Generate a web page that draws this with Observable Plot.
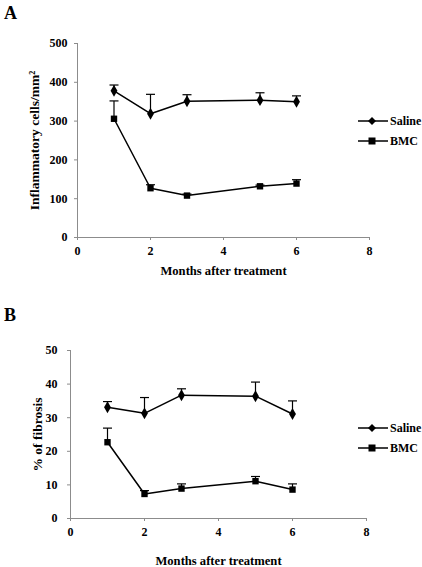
<!DOCTYPE html>
<html>
<head>
<meta charset="utf-8">
<script src="https://cdn.jsdelivr.net/npm/d3@7"></script>
<script src="https://cdn.jsdelivr.net/npm/@observablehq/plot@0.6"></script>
<style>
  html, body { margin: 0; padding: 0; background: #fff; }
  #root { position: relative; width: 422px; height: 567px; overflow: hidden; font-family: "Liberation Serif", "Times New Roman", serif; font-weight: bold; }
  #root svg, #root svg text { font-family: "Liberation Serif", "Times New Roman", serif !important; font-weight: bold !important; }
  #root svg { font-size: 12px; }
  .panel { position: absolute; left: 0; }
  .letter { position: absolute; font-size: 18px; font-weight: bold; }
  .legend { position: absolute; font-size: 12px; display: flex; align-items: center; height: 14px; }
  .legend svg { margin-right: 2px; }
</style>
</head>
<body>
<div id="root"></div>
<script>
// ---- Data ----
const months = [1, 2, 3, 5, 6];
const seriesNames = ["Saline", "BMC"];

// Panel A: inflammatory cells/mm²
const salineCells = [378, 319, 351, 354, 350];
const salineCellsErr = [393, 369, 368, 373, 365];
const bmcCells = [306, 127, 108, 132, 139];
const bmcCellsErr = [352, 136, 112, 135, 149];

// Panel B: % of fibrosis
const salineFib = [33.1, 31.3, 36.7, 36.4, 31.1];
const salineFibErr = [34.8, 36.0, 38.6, 40.6, 35.0];
const bmcFib = [22.7, 7.3, 8.9, 11.1, 8.6];
const bmcFibErr = [26.9, 8.3, 10.3, 12.5, 10.3];

const xTicks = [0, 2, 4, 6, 8];
const yTicksA = [0, 100, 200, 300, 400, 500];
const yTicksB = [0, 10, 20, 30, 40, 50];
const xTitle = "Months after treatment";

function rows(name, vals, errs) {
  return months.map((m, i) => ({series: name, month: m, value: vals[i], top: errs[i]}));
}

const capSymbol = {
  draw(context, size) {
    const w = 4.5;
    context.moveTo(-w, 0);
    context.lineTo(w, 0);
  }
};

const symbols = {Saline: "diamond", BMC: "square"};

function makeChart(opts) {
  const data = [...rows("Saline", opts.saline, opts.salineErr), ...rows("BMC", opts.bmc, opts.bmcErr)];
  const font = {fontFamily: "Liberation Serif", fontWeight: "bold", fontSize: "12px", background: "transparent", overflow: "visible"};
  return Plot.plot({
    width: 422,
    height: opts.height,
    marginLeft: opts.marginLeft,
    marginRight: opts.marginRight,
    marginTop: opts.marginTop,
    marginBottom: opts.marginBottom,
    style: font,
    x: {domain: [0, 8]},
    y: {domain: opts.yDomain},
    marks: [
      Plot.ruleY([opts.yDomain[0]], {stroke: "#8c8c8c", strokeWidth: 1}),
      Plot.ruleX([0], {stroke: "#8c8c8c", strokeWidth: 1}),
      Plot.axisX({ticks: xTicks, tickSize: 3, tickPadding: 6, stroke: "#8c8c8c", fill: "black",
        label: null, tickFormat: d => String(d)}),
      Plot.axisY({ticks: opts.yTicks, tickSize: 3, tickPadding: opts.yTickPadding, stroke: "#8c8c8c", fill: "black",
        label: null, tickFormat: d => String(d)}),
      Plot.text([xTitle], {frameAnchor: "bottom", dy: opts.xTitleDy, fontSize: 12.6, fill: "black", lineAnchor: "middle"}),
      Plot.text([opts.yLabel], {frameAnchor: "left", dx: opts.yTitleDx, rotate: -90, fontSize: 13.5, fill: "black", lineAnchor: "middle", textAnchor: "middle"}),
      Plot.link(data, {x1: "month", x2: "month", y1: "value", y2: "top", stroke: "black", strokeWidth: 1.2}),
      Plot.dot(data, {x: "month", y: "top", symbol: capSymbol, stroke: "black", strokeWidth: 1.2, fill: "none", r: 4}),
      Plot.line(data, {x: "month", y: "value", z: "series", stroke: "black", strokeWidth: 1.5}),
      Plot.dot(data, {x: "month", y: "value", symbol: d => symbols[d.series], fill: "black", stroke: "none", r: 3.6})
    ]
  });
}

const root = document.getElementById("root");

function addPanel(top, chart) {
  const div = document.createElement("div");
  div.className = "panel";
  div.style.top = top + "px";
  div.appendChild(chart);
  root.appendChild(div);
}

function addLetter(text, left, top) {
  const d = document.createElement("div");
  d.className = "letter";
  d.style.left = left + "px";
  d.style.top = top + "px";
  d.textContent = text;
  root.appendChild(d);
}

function legendSymbol(name) {
  const shape = name === "Saline"
    ? '<path d="M14,-4 L18,0 L14,4 L10,0 Z" fill="black"/>'
    : '<rect x="10.5" y="-3.5" width="7" height="7" fill="black"/>';
  return '<svg width="30" height="10" viewBox="0 -5 30 10"><line x1="0" y1="0" x2="30" y2="0" stroke="black" stroke-width="1.5"/>' + shape + '</svg>';
}

function addLegend(top) {
  seriesNames.forEach((name, i) => {
    const d = document.createElement("div");
    d.className = "legend";
    d.style.left = "358px";
    d.style.top = (top + i * 20 - 7) + "px";
    d.innerHTML = legendSymbol(name) + '<span>' + name + '</span>';
    root.appendChild(d);
  });
}

addLetter("A", 4, 3);
addPanel(20, makeChart({
  height: 270, marginLeft: 77, marginRight: 53, marginTop: 23, marginBottom: 53,
  yDomain: [0, 500], yTicks: yTicksA, yLabel: "Inflammatory cells/mm²", yTickPadding: 7,
  saline: salineCells, salineErr: salineCellsErr, bmc: bmcCells, bmcErr: bmcCellsErr,
  xTitleDy: 33, yTitleDx: -43
}));
addLegend(121);

addLetter("B", 4, 305);
addPanel(290, makeChart({
  height: 277, marginLeft: 70, marginRight: 56, marginTop: 60, marginBottom: 49,
  yDomain: [0, 50], yTicks: yTicksB, yLabel: "% of fibrosis", yTickPadding: 10,
  saline: salineFib, salineErr: salineFibErr, bmc: bmcFib, bmcErr: bmcFibErr,
  xTitleDy: 42, yTitleDx: -33
}));
addLegend(428);
</script>
</body>
</html>
